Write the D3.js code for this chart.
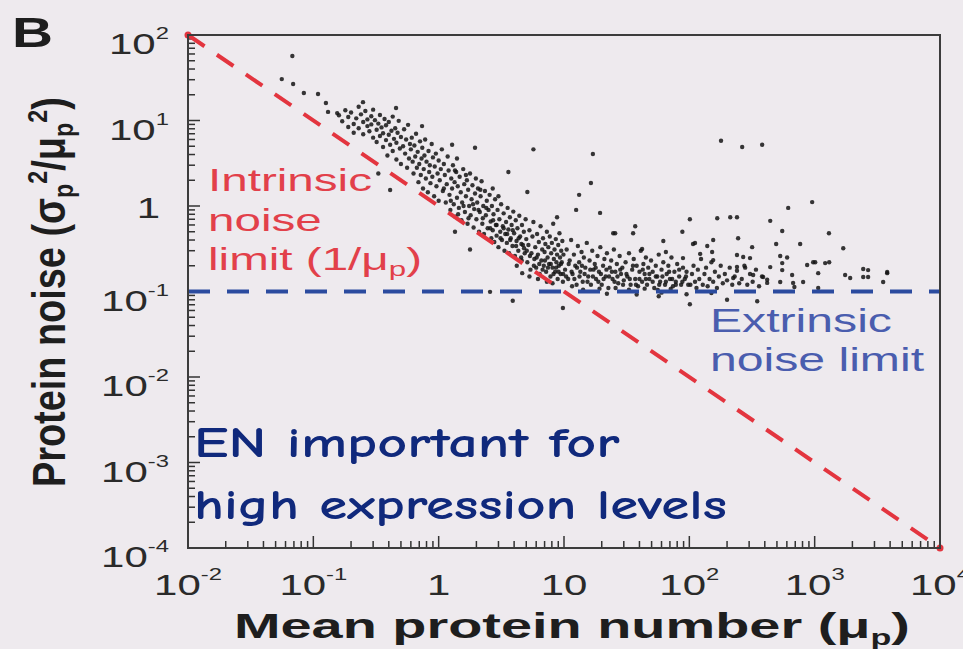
<!DOCTYPE html>
<html>
<head>
<meta charset="utf-8">
<script src="https://cdn.jsdelivr.net/npm/d3@7"></script>
<style>
  body { margin: 0; background: #eeeaee; }
  svg { display: block; }
</style>
</head>
<body>
<svg id="chart" width="963" height="649"></svg>
<script>
// Axis ticks and labels
var x_tick_values = [1e-2, 1e-1, 1, 10, 1e2, 1e3, 1e4]
var x_tick_labels = [['10', '-2'], ['10', '-1'], ['1', ''], ['10', ''], ['10', '2'], ['10', '3'], ['10', '4']]
var y_tick_values = [1e-4, 1e-3, 1e-2, 1e-1, 1, 10, 1e2]
var y_tick_labels = [['10', '-4'], ['10', '-3'], ['10', '-2'], ['10', '-1'], ['1', ''], ['10', '1'], ['10', '2']]

// Noise limits
var intrinsic_limit = [[1e-2, 1e2], [1e4, 1e-4]]   // 1/mu
var extrinsic_limit = 0.1

// Genes: [mean protein number, protein noise], read off the picture
var gene_points = [
  // sparse / outliers
  [0.068,56.8],[0.056,30.5],[0.069,26.7],[0.084,21],[0.109,20.4],[0.126,16],[0.131,12.6],[0.155,12.2],[0.249,16.4],[0.457,14],
  [0.737,8.6],[1.28,5.2],[1.4,3.6],[0.33,2.4],[0.41,1.54],[1.35,0.5],[1.78,0.31],[1.95,4.8],[5.7,4.6],[3.6,2.5],
  [5.1,1.46],[3.9,0.078],[2.57,0.099],[9.8,0.064],[4.64,0.164],[101,0.70],[167,0.72],[212,0.74],[240,0.74],[442,0.67],
  [551,0.51],[615,0.95],[955,1.11],[1300,0.48],[1690,0.32],[493,0.36],[766,0.36],[179,5.8],[264,4.9],[381,5.2],
  [17,4.05],[16.4,1.86],[13.2,1.35],[12.5,0.9],[19.4,0.83],[8.8,0.74],[37,0.58],[25.6,0.48],[88,0.5],[62,0.39],
  [245,0.42],[107,0.36],[139,0.34],[317,0.33],[603,0.25],[973,0.22],[1213,0.215],[2670,0.178],[3790,0.169],[3520,0.129],
  [1750,0.156],[2440,0.148],[1920,0.144],[2440,0.183],[101,0.071],[348,0.077],[200,0.08],
  // high expression tail
  [531,0.26],[551,0.215],[871,0.204],[1010,0.22],[1306,0.22],[551,0.178],[442,0.193],[388,0.148],[661,0.156],[1067,0.164],
  [2670,0.148],[3790,0.164],[673,0.126],[809,0.129],[418,0.126],[531,0.129],[689,0.113],[1067,0.11],
  [24.7,0.48],[35.6,0.48],[42,0.314],[65,0.29],[122,0.275],[152,0.29],[89,0.246],[155,0.233],[240,0.267],[269,0.253],
  [305,0.246],[240,0.194],[279,0.19],[323,0.156],[418,0.137],[224,0.144],[111,0.369],[155,0.4],
  [102,0.12],[105,0.16],[108,0.2],[111,0.13],[114,0.11],[117,0.18],[120,0.14],[124,0.24],[128,0.12],[132,0.16],
  [136,0.19],[140,0.115],[145,0.14],[150,0.22],[155,0.13],[160,0.17],[166,0.11],[172,0.15],[178,0.2],[185,0.125],
  [192,0.16],[200,0.135],[210,0.19],[220,0.12],[230,0.15],[240,0.175],[250,0.125],[262,0.14],[275,0.2],[290,0.12],
  [305,0.16],[320,0.13],[340,0.18],[360,0.115],[380,0.15],
  // mu 0.15 - 0.3
  [0.16,11.5],[0.17,9.8],[0.18,13.2],[0.19,8.4],[0.19,11],[0.2,12.4],[0.21,9.1],[0.21,7.2],[0.22,10.6],[0.23,14.5],
  [0.23,8.1],[0.24,11.8],[0.25,9.6],[0.25,6.9],[0.26,12.9],[0.27,8.6],[0.27,10.3],[0.28,7.5],[0.29,11.2],[0.29,9.0],
  [0.3,6.3],[0.3,13.4],
  // mu 0.3 - 0.6
  [0.31,10.1],[0.32,7.8],[0.32,5.6],[0.33,9.2],[0.34,11.6],[0.34,6.6],[0.35,8.3],[0.36,4.9],[0.36,7.1],[0.37,10.4],
  [0.38,5.9],[0.38,8.8],[0.39,3.9],[0.4,6.8],[0.4,9.6],[0.41,5.2],[0.42,7.6],[0.43,4.4],[0.43,11.1],[0.44,6.1],
  [0.45,8.1],[0.46,3.5],[0.46,5.5],[0.47,7.2],[0.48,9.9],[0.49,4.7],[0.5,6.4],[0.5,3.1],[0.52,5.0],[0.53,7.9],
  [0.54,4.1],[0.55,6.0],[0.56,2.8],[0.57,8.9],[0.58,3.6],[0.59,5.3],
  // mu 0.6 - 1.2
  [0.6,4.6],[0.61,6.3],[0.62,3.3],[0.63,2.4],[0.64,5.1],[0.65,3.8],[0.66,7.0],[0.67,2.8],[0.68,4.3],[0.69,1.9],
  [0.7,3.1],[0.71,5.7],[0.72,2.3],[0.73,3.6],[0.74,4.8],[0.75,1.6],[0.76,2.7],[0.77,3.9],[0.78,6.0],[0.79,2.1],
  [0.8,3.3],[0.82,1.45],[0.83,4.4],[0.84,2.5],[0.85,3.0],[0.86,1.85],[0.88,5.3],[0.89,2.2],[0.9,3.7],[0.92,1.3],
  [0.93,2.9],[0.95,4.1],[0.96,1.7],[0.98,2.4],[1.0,3.4],[1.0,1.15],[1.02,2.0],[1.04,2.7],[1.06,4.6],[1.08,1.5],
  [1.1,3.1],[1.12,2.3],[1.14,1.1],[1.16,1.8],[1.18,3.8],[1.2,2.6],
  // mu 1.2 - 2.5
  [1.22,1.35],[1.24,0.9],[1.26,2.1],[1.28,1.6],[1.3,3.0],[1.32,1.05],[1.34,1.9],[1.36,0.75],[1.38,2.5],[1.4,1.25],
  [1.42,1.7],[1.45,0.95],[1.47,2.2],[1.5,1.45],[1.52,0.68],[1.54,1.1],[1.57,2.7],[1.6,1.8],[1.62,0.85],[1.65,1.3],
  [1.68,2.0],[1.7,0.62],[1.72,1.55],[1.75,1.0],[1.78,2.4],[1.8,0.78],[1.83,1.2],[1.86,1.75],[1.9,0.56],[1.92,0.92],
  [1.95,1.4],[1.98,2.1],[2.0,0.7],[2.03,1.1],[2.06,1.6],[2.1,0.5],[2.13,0.85],[2.16,1.3],[2.2,1.95],[2.23,0.62],
  [2.27,1.0],[2.3,0.47],[2.34,1.5],[2.38,0.78],[2.42,1.15],[2.46,0.55],[2.5,0.9],
  [1.1,1.6],[1.25,1.15],[1.43,0.8],[1.58,1.0],[1.73,0.72],[1.88,1.05],[2.08,0.9],[2.25,0.72],[2.4,0.95],[2.15,1.55],
  [1.65,2.3],[1.35,2.6],
  // mu 2.5 - 5
  [2.55,1.35],[2.6,0.66],[2.63,0.42],[2.66,1.0],[2.7,0.52],[2.74,0.8],[2.78,0.38],[2.82,1.2],[2.86,0.6],[2.9,0.45],
  [2.95,0.9],[3.0,0.33],[3.05,0.7],[3.1,0.5],[3.15,1.05],[3.2,0.4],[3.25,0.58],[3.3,0.82],[3.35,0.3],[3.4,0.47],
  [3.45,0.65],[3.5,0.37],[3.55,0.95],[3.6,0.53],[3.65,0.28],[3.7,0.74],[3.76,0.42],[3.82,0.6],[3.88,0.34],[3.94,0.86],
  [4.0,0.48],[4.06,0.26],[4.12,0.68],[4.18,0.39],[4.25,0.55],[4.32,0.3],[4.4,0.77],[4.47,0.44],[4.55,0.25],[4.62,0.6],
  [4.7,0.35],[4.78,0.5],[4.86,0.28],[4.94,0.7],[5.0,0.41],
  [2.58,0.55],[2.72,0.68],[2.9,0.6],[3.12,0.42],[3.3,0.55],[3.52,0.47],[3.72,0.4],[3.9,0.52],[4.15,0.34],[4.35,0.42],
  [4.57,0.36],[4.8,0.32],[3.0,1.3],[2.7,1.6],[4.2,0.2],[4.6,0.23],
  // mu 5 - 10
  [5.1,0.22],[5.2,0.35],[5.3,0.52],[5.4,0.18],[5.5,0.28],[5.6,0.44],[5.7,0.65],[5.8,0.24],[5.9,0.33],[6.0,0.19],
  [6.1,0.47],[6.2,0.27],[6.3,0.38],[6.4,0.16],[6.5,0.58],[6.6,0.23],[6.7,0.31],[6.8,0.42],[6.9,0.2],[7.0,0.29],
  [7.1,0.36],[7.2,0.17],[7.3,0.5],[7.4,0.25],[7.5,0.33],[7.6,0.21],[7.7,0.44],[7.8,0.15],[7.9,0.28],[8.0,0.37],
  [8.1,0.19],[8.2,0.62],[8.3,0.24],[8.4,0.31],[8.5,0.17],[8.6,0.41],[8.7,0.22],[8.8,0.27],[8.9,0.14],[9.0,0.35],
  [9.1,0.2],[9.2,0.48],[9.3,0.25],[9.4,0.16],[9.5,0.3],[9.6,0.22],[9.7,0.39],[9.8,0.13],[9.9,0.27],
  [5.05,0.3],[5.35,0.26],[5.75,0.2],[6.05,0.25],[6.35,0.21],[6.75,0.18],[7.05,0.23],[7.45,0.19],[7.85,0.21],[8.25,0.16],
  [8.65,0.19],[9.05,0.17],[9.45,0.21],[9.85,0.16],[5.3,0.15],[6.2,0.14],[7.3,0.13],[8.1,0.125],
  // mu 10 - 30
  [10.2,0.18],[10.5,0.31],[10.8,0.14],[11.1,0.23],[11.4,0.4],[11.7,0.16],[12,0.27],[12.3,0.2],[12.6,0.12],[12.9,0.34],
  [13.2,0.22],[13.5,0.17],[13.8,0.29],[14.1,0.13],[14.4,0.25],[14.8,0.19],[15.2,0.37],[15.6,0.15],[16,0.23],[16.4,0.12],
  [16.8,0.3],[17.2,0.18],[17.6,0.21],[18,0.14],[18.5,0.26],[19,0.17],[19.5,0.33],[20,0.12],[20.5,0.2],[21,0.24],
  [21.5,0.15],[22,0.28],[22.6,0.11],[23.2,0.19],[23.8,0.23],[24.4,0.14],[25,0.31],[25.7,0.17],[26.4,0.21],[27.1,0.125],
  [27.8,0.26],[28.5,0.16],[29.2,0.19],[30,0.135],
  [10.4,0.15],[10.9,0.21],[11.5,0.17],[12.1,0.14],[12.7,0.19],[13.3,0.15],[13.9,0.2],[14.6,0.16],[15.4,0.13],[16.2,0.18],
  [17,0.15],[17.9,0.19],[18.8,0.13],[19.7,0.16],[20.7,0.14],[21.8,0.18],[22.9,0.15],[24.1,0.17],[25.3,0.13],[26.7,0.15],
  [28.1,0.18],[29.6,0.12],[11.6,0.115],[14.2,0.105],[19.2,0.108],[25.8,0.11],[22,0.094],
  // mu 30 - 100
  [31,0.22],[32,0.15],[33,0.28],[34,0.12],[35,0.18],[36,0.24],[37,0.14],[38,0.2],[39,0.115],[40,0.17],
  [41,0.3],[42,0.13],[43,0.21],[44,0.16],[45,0.25],[46,0.12],[47,0.19],[48,0.14],[49.5,0.23],[51,0.17],
  [52.5,0.11],[54,0.2],[55.5,0.15],[57,0.27],[58.5,0.13],[60,0.18],[62,0.22],[64,0.12],[66,0.16],[68,0.2],
  [70,0.14],[72,0.25],[74,0.115],[76,0.17],[78,0.13],[80,0.21],[83,0.15],[86,0.12],[89,0.19],[92,0.14],
  [95,0.17],[98,0.12],
  [31.5,0.16],[33.5,0.14],[35.5,0.2],[37.5,0.12],[40,0.14],[42.5,0.18],[45,0.14],[48,0.16],[51,0.13],[54,0.15],
  [57.5,0.12],[61,0.15],[65,0.13],[69,0.17],[73,0.14],[78,0.12],[83,0.18],[88,0.13],[94,0.15],
  [33,0.105],[44,0.108],[56,0.104],[71,0.107],[38,0.092],[60,0.097],[95,0.093],[150,0.096],[57,0.088]
]

var svg = d3.select('#chart')
var plot = {left: 188, top: 35, right: 940, bottom: 548}
var label_font = 'Liberation Sans, Arial, Helvetica, sans-serif'

var x = d3.scaleLog().domain([1e-2, 1e4]).range([plot.left, plot.right])
var y = d3.scaleLog().domain([1e-4, 1e2]).range([plot.bottom, plot.top])

svg.append('rect')
  .attr('width', 963)
  .attr('height', 649)
  .attr('fill', '#eeeaee')

// Ticks: decades long, 2..9 short, all pointing into the plot
function all_ticks(decades) {
  var out = []
  decades.forEach((d, i) => {
    out.push({v: d, len: 12})
    if (i < decades.length - 1) {
      for (var k = 2; k <= 9; k++) out.push({v: k * d, len: 7})
    }
  })
  return out
}

svg.append('g')
  .selectAll('line')
  .data(all_ticks(x_tick_values))
  .join('line')
  .attr('x1', d => x(d.v))
  .attr('x2', d => x(d.v))
  .attr('y1', plot.bottom)
  .attr('y2', d => plot.bottom - d.len)
  .attr('stroke', '#333')
  .attr('stroke-width', 1.5)

svg.append('g')
  .selectAll('line')
  .data(all_ticks(y_tick_values))
  .join('line')
  .attr('x1', plot.left)
  .attr('x2', d => plot.left + d.len)
  .attr('y1', d => y(d.v))
  .attr('y2', d => y(d.v))
  .attr('stroke', '#333')
  .attr('stroke-width', 1.5)

// Scatter of genes
svg.append('g')
  .selectAll('circle')
  .data(gene_points)
  .join('circle')
  .attr('cx', d => x(d[0]))
  .attr('cy', d => y(d[1]))
  .attr('r', 2.2)
  .attr('fill', '#141414')
  .attr('opacity', 0.85)

// Intrinsic noise limit (red) and extrinsic noise limit (blue)
svg.append('path')
  .datum(intrinsic_limit)
  .attr('d', d3.line().x(d => x(d[0])).y(d => y(d[1])))
  .attr('fill', 'none')
  .attr('stroke', '#e3353f')
  .attr('stroke-width', 4)
  .attr('stroke-dasharray', '20 15')

svg.append('g')
  .selectAll('circle')
  .data(intrinsic_limit)
  .join('circle')
  .attr('cx', d => x(d[0]))
  .attr('cy', d => y(d[1]))
  .attr('r', 3.5)
  .attr('fill', '#e3353f')

svg.append('line')
  .attr('x1', x(x_tick_values[0]))
  .attr('x2', x(x_tick_values[x_tick_values.length - 1]))
  .attr('y1', y(extrinsic_limit))
  .attr('y2', y(extrinsic_limit))
  .attr('stroke', '#2b4b9f')
  .attr('stroke-width', 4)
  .attr('stroke-dasharray', '22 17')

// Frame
svg.append('rect')
  .attr('x', plot.left)
  .attr('y', plot.top)
  .attr('width', plot.right - plot.left)
  .attr('height', plot.bottom - plot.top)
  .attr('fill', 'none')
  .attr('stroke', '#3c3c3c')
  .attr('stroke-width', 2)

// The source picture is stretched sideways, so text gets a horizontal scale
var tick_sx = 1.4

function tick_label(base, sup) {
  var g = svg.append('g')
  var t = g.append('text')
    .attr('font-family', label_font)
    .attr('font-size', 30)
    .attr('fill', '#2a2a2a')
    .text(base)
  if (sup) {
    t.append('tspan')
      .attr('font-size', 17)
      .attr('dy', -15)
      .text(sup)
  }
  return g
}

x_tick_values.forEach((v, i) => {
  var lab = x_tick_labels[i]
  var g = tick_label(lab[0], lab[1])
  var w = g.node().getBBox().width * tick_sx
  g.attr('transform', 'translate(' + (x(v) - w / 2) + ',595) scale(' + tick_sx + ',1)')
})

y_tick_values.forEach((v, i) => {
  var lab = y_tick_labels[i]
  var g = tick_label(lab[0], lab[1])
  var w = g.node().getBBox().width * tick_sx
  var right = lab[1] ? 169 : 160
  var base = y(v) + (lab[1] ? 19 : 12)
  g.attr('transform', 'translate(' + (right - w) + ',' + base + ') scale(' + tick_sx + ',1)')
})

// Stretch a text group so that it spans target_width
function stretch_to(g, left, baseline, target_width) {
  var sx = target_width / g.node().getBBox().width
  g.attr('transform', 'translate(' + left + ',' + baseline + ') scale(' + sx + ',1)')
  return sx
}

function new_text(font, size, weight, color) {
  var g = svg.append('g')
  var t = g.append('text')
    .attr('font-family', font)
    .attr('font-size', size)
    .attr('font-weight', weight)
    .attr('fill', color)
  return [g, t]
}

// Panel letter
var b = new_text(label_font, 42, 'bold', '#1e1e1e')
b[1].text('B')
stretch_to(b[0], 12, 47, 41)

// X axis title
var xt = new_text(label_font, 36, 'bold', '#1e1e1e')
xt[1].text('Mean protein number (μ')
xt[1].append('tspan').attr('font-size', 22).attr('dy', 7).text('p')
xt[1].append('tspan').attr('dy', -7).text(')')
stretch_to(xt[0], 234, 638, 676)

// Y axis title, rotated
var yt = new_text(label_font, 34, 'bold', '#1e1e1e')
yt[1].text('Protein noise (σ')
yt[1].append('tspan').attr('font-size', 21).attr('dy', 6).text('p')
yt[1].append('tspan').attr('font-size', 21).attr('dy', -19).text('2')
yt[1].append('tspan').attr('dy', 13).text('/μ')
yt[1].append('tspan').attr('font-size', 21).attr('dy', 6).text('p')
yt[1].append('tspan').attr('font-size', 21).attr('dy', -19).text('2')
yt[1].append('tspan').attr('dy', 13).text(')')
var yt_len = yt[0].node().getBBox().width
yt[0].attr('transform', 'translate(65,487) scale(1.36,1) rotate(-90) scale(' + (390 / yt_len) + ',1)')

// Intrinsic noise annotation
var red_text = '#e2404a'
var in1 = new_text(label_font, 32, 'normal', red_text)
in1[1].text('Intrinsic')
var in_sx = stretch_to(in1[0], 208, 191, 164)
var in2 = new_text(label_font, 32, 'normal', red_text)
in2[1].text('noise')
in2[0].attr('transform', 'translate(208,231) scale(' + in_sx + ',1)')
var in3 = new_text(label_font, 32, 'normal', red_text)
in3[1].text('limit (1/μ')
in3[1].append('tspan').attr('font-size', 21).attr('dy', 6).text('p')
in3[1].append('tspan').attr('dy', -6).text(')')
in3[0].attr('transform', 'translate(208,270) scale(' + in_sx + ',1)')

// Extrinsic noise annotation
var blue_text = '#4a5dae'
var ex1 = new_text(label_font, 33, 'normal', blue_text)
ex1[1].text('Extrinsic')
var ex_sx = stretch_to(ex1[0], 710, 332, 182)
var ex2 = new_text(label_font, 33, 'normal', blue_text)
ex2[1].text('noise limit')
ex2[0].attr('transform', 'translate(710,371) scale(' + ex_sx + ',1)')

// Handwritten-style note
var note_font = 'Comic Sans MS, Comic Neue, Lato, sans-serif'
var en1 = new_text(note_font, 42, 'bold', '#10297c')
en1[1].text('EN important for')
stretch_to(en1[0], 194, 457, 426)
var en2 = new_text(note_font, 42, 'bold', '#10297c')
en2[1].text('high expression levels')
stretch_to(en2[0], 194, 519, 533)
</script>
</body>
</html>
